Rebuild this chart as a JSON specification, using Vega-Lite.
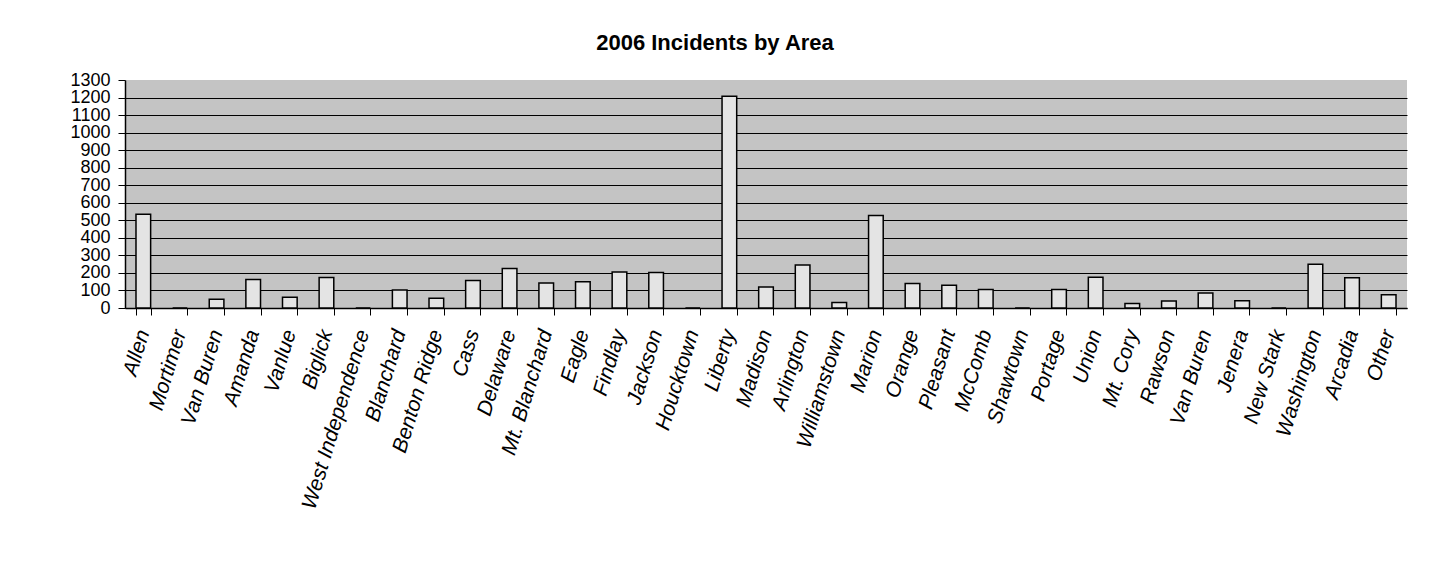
{
  "$schema": "https://vega.github.io/schema/vega-lite/v6.json",
  "autosize": {"type": "none"},
  "padding": {"left": 125, "top": 80, "right": 23, "bottom": 266},
  "width": 1282,
  "height": 228,
  "background": "white",
  "title": {
    "text": "2006 Incidents by Area",
    "font": "Liberation Sans",
    "fontSize": 22,
    "fontWeight": "bold",
    "color": "black",
    "anchor": "middle",
    "dx": -51,
    "offset": 16
  },
  "data": {
    "values": [
      {"area": "Allen", "incidents": 535},
      {"area": "Mortimer", "incidents": 0},
      {"area": "Van Buren", "incidents": 50},
      {"area": "Amanda", "incidents": 163},
      {"area": "Vanlue", "incidents": 62},
      {"area": "Biglick", "incidents": 174},
      {"area": "West Independence", "incidents": 0},
      {"area": "Blanchard", "incidents": 103},
      {"area": "Benton Ridge", "incidents": 56},
      {"area": "Cass", "incidents": 157},
      {"area": "Delaware", "incidents": 225},
      {"area": "Mt. Blanchard", "incidents": 142},
      {"area": "Eagle", "incidents": 150},
      {"area": "Findlay", "incidents": 205},
      {"area": "Jackson", "incidents": 202},
      {"area": "Houcktown", "incidents": 0},
      {"area": "Liberty", "incidents": 1208},
      {"area": "Madison", "incidents": 120},
      {"area": "Arlington", "incidents": 245},
      {"area": "Williamstown", "incidents": 32},
      {"area": "Marion", "incidents": 528},
      {"area": "Orange", "incidents": 140},
      {"area": "Pleasant", "incidents": 130},
      {"area": "McComb", "incidents": 105},
      {"area": "Shawtown", "incidents": 0},
      {"area": "Portage", "incidents": 105},
      {"area": "Union", "incidents": 175},
      {"area": "Mt. Cory", "incidents": 25},
      {"area": "Rawson", "incidents": 40},
      {"area": "Van Buren\u200b", "incidents": 85},
      {"area": "Jenera", "incidents": 42},
      {"area": "New Stark", "incidents": 0},
      {"area": "Washington", "incidents": 250},
      {"area": "Arcadia", "incidents": 172},
      {"area": "Other", "incidents": 75}
    ]
  },
  "mark": {"type": "bar", "fill": "#e4e4e4", "stroke": "black", "strokeWidth": 1.5},
  "encoding": {
    "x": {
      "field": "area",
      "type": "nominal",
      "sort": null,
      "scale": {"paddingInner": 0.6, "paddingOuter": 0.3},
      "axis": {
        "title": null,
        "labelAngle": -73,
        "labelFont": "Liberation Sans",
        "labelFontStyle": "italic",
        "labelFontSize": 21,
        "labelColor": "black",
        "labelLimit": 400,
        "labelPadding": 15,
        "labelOverlap": false,
        "tickBand": "extent",
        "tickSize": 7,
        "tickColor": "black",
        "domainColor": "black",
        "domainWidth": 1.5,
        "grid": false
      }
    },
    "y": {
      "field": "incidents",
      "type": "quantitative",
      "scale": {"domain": [0, 1300], "nice": false},
      "axis": {
        "title": null,
        "values": [0, 100, 200, 300, 400, 500, 600, 700, 800, 900, 1000, 1100, 1200, 1300],
        "format": "d",
        "labelOverlap": false,
        "labelFlush": false,
        "labelFont": "Liberation Sans",
        "labelFontSize": 18,
        "labelColor": "black",
        "labelPadding": 8,
        "tickSize": 7,
        "tickColor": "black",
        "domainColor": "black",
        "domainWidth": 1.5,
        "grid": true,
        "gridColor": "black",
        "gridWidth": 1,
        "gridOpacity": {"condition": {"test": "datum.value >= 1300", "value": 0}, "value": 1}
      }
    }
  },
  "config": {
    "view": {"fill": "#c4c4c4", "stroke": null}
  }
}
